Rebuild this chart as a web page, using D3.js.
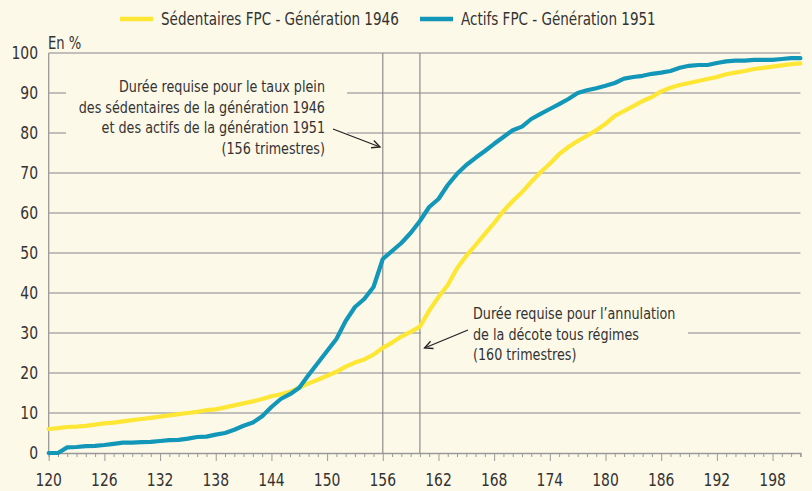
<!DOCTYPE html>
<html><head><meta charset="utf-8">
<script src="https://cdn.jsdelivr.net/npm/d3@7"></script>
<style>
html,body{margin:0;padding:0;background:#fdf9e9;}
svg{display:block;}
text{font-family:"Liberation Sans Narrow","DejaVu Sans Condensed","Roboto",sans-serif;font-stretch:condensed;fill:#333;}
</style></head>
<body>
<svg id="chart" width="812" height="491"></svg>
<script>
const quarters = d3.range(120, 202);
const sedentaires1946 = [6.0,6.2,6.5,6.6,6.8,7.1,7.4,7.6,7.9,8.2,8.5,8.8,9.1,9.4,9.7,10.0,10.3,10.7,10.9,11.4,11.9,12.4,12.9,13.5,14.2,14.7,15.3,16.3,17.4,18.3,19.3,20.3,21.6,22.6,23.4,24.6,26.3,27.6,29.1,30.3,31.6,35.6,39.0,42.0,46.2,49.3,52.0,54.8,57.5,60.5,63.0,65.2,67.8,70.2,72.3,74.7,76.5,78.0,79.3,80.7,82.3,84.3,85.5,86.7,88.0,89.0,90.4,91.3,92.0,92.5,93.0,93.5,94.0,94.7,95.1,95.5,96.0,96.3,96.6,96.9,97.2,97.4];
const actifs1951 = [0,0,1.4,1.5,1.7,1.8,2.0,2.3,2.6,2.6,2.7,2.8,3.0,3.2,3.3,3.6,4.0,4.1,4.6,5.0,5.8,6.8,7.6,9.2,11.5,13.5,14.7,16.3,19.5,22.5,25.5,28.5,33.0,36.5,38.5,41.5,48.5,50.5,52.5,55.0,58.0,61.5,63.5,67.0,69.8,72.0,73.8,75.5,77.3,79.0,80.7,81.6,83.5,84.8,86.0,87.2,88.5,90.0,90.7,91.2,91.8,92.5,93.6,94.0,94.3,94.8,95.1,95.5,96.3,96.8,97.0,97.0,97.5,97.9,98.1,98.1,98.3,98.3,98.3,98.5,98.7,98.7];
const xTicks = [120,126,132,138,144,150,156,162,168,174,180,186,192,198];
const yTicks = [0,10,20,30,40,50,60,70,80,90,100];
const seriesNames = ["Sédentaires FPC  - Génération 1946","Actifs FPC - Génération 1951"];
const seriesColors = ["#fde634","#1297b9"];
const refLines = [156,160];
const note1 = ["Durée requise pour le taux plein","des sédentaires de la génération 1946","et des actifs de la génération 1951","(156 trimestres)"];
const note2 = ["Durée requise pour l’annulation","de la décote tous régimes","(160 trimestres)"];

const svg = d3.select("#chart");
const bg = "#fdf9e9";
const SX = 0.86;
function addText(parent, px, py, str, size, anchor){
  return parent.append("text")
    .attr("transform",`translate(${px},${py}) scale(${SX},1)`)
    .attr("text-anchor",anchor||"start").attr("font-size",size).text(str);
}
svg.append("rect").attr("width",812).attr("height",491).attr("fill",bg);

const x = d3.scaleLinear().domain([120,201]).range([48.7,800.4]);
const y = d3.scaleLinear().domain([0,100]).range([453,53]);

// gridlines
svg.append("g").selectAll("line").data(yTicks.filter(d=>d>0)).join("line")
  .attr("x1",x(120)).attr("x2",x(201))
  .attr("y1",d=>y(d)).attr("y2",d=>y(d))
  .attr("stroke","#ababab").attr("stroke-width",1.3);

// masks behind annotations
svg.append("rect").attr("x",66).attr("y",68).attr("width",281).attr("height",90).attr("fill",bg);
svg.append("rect").attr("x",421).attr("y",300).attr("width",267).attr("height",64).attr("fill",bg);

// reference vertical lines
svg.append("g").selectAll("line").data(refLines).join("line")
  .attr("x1",d=>x(d)).attr("x2",d=>x(d)).attr("y1",y(100)).attr("y2",y(0))
  .attr("stroke","#8c8c8c").attr("stroke-width",1.2);

// x axis
const xAxis = d3.axisBottom(x).tickValues(d3.range(120,202)).tickSize(4).tickFormat("");
const gx = svg.append("g").attr("transform",`translate(0,${y(0)})`).call(xAxis);
gx.select(".domain").attr("stroke","#999").attr("stroke-width",1.3);
gx.selectAll(".tick line").attr("stroke","#999").attr("stroke-width",1)
  .attr("y2",d=> (d-120)%6===0 ? 8 : 4);
const gxl = svg.append("g");
xTicks.forEach(d=>addText(gxl, x(d), 486, d, 18, "middle"));

// y axis
svg.append("line").attr("x1",x(120)).attr("x2",x(120)).attr("y1",y(100)).attr("y2",y(0))
  .attr("stroke","#999").attr("stroke-width",1.3);
const gyl = svg.append("g");
yTicks.forEach(d=>addText(gyl, 38, y(d)+6, d, 18, "end"));
addText(svg, 48, 49, "En %", 17, "start");

// lines
const line = d3.line().x((d,i)=>x(quarters[i])).y(d=>y(d)).curve(d3.curveLinear);
[sedentaires1946, actifs1951].forEach((s,k)=>{
  svg.append("path").datum(s).attr("d",line).attr("fill","none")
    .attr("stroke",seriesColors[k]).attr("stroke-width",4.2)
    .attr("stroke-linejoin","round").attr("stroke-linecap","round");
});

// legend
const legendX = [120,420];
seriesNames.forEach((n,k)=>{
  svg.append("line").attr("x1",legendX[k]).attr("x2",legendX[k]+33)
    .attr("y1",19).attr("y2",19).attr("stroke",seriesColors[k]).attr("stroke-width",4.5);
  addText(svg, legendX[k]+41, 25, n, 17.5, "start");
});

// annotations
const g1 = svg.append("g");
note1.forEach((t,i)=>addText(g1, 325, 92+i*20.5, t, 16.5, "end"));
const g2 = svg.append("g");
note2.forEach((t,i)=>addText(g2, 473, 319+i*20.5, t, 16.5, "start"));

// arrows
function arrow(x1,y1,x2,y2){
  const g = svg.append("g").attr("stroke","#222").attr("stroke-width",1.3).attr("fill","none");
  g.append("line").attr("x1",x1).attr("y1",y1).attr("x2",x2).attr("y2",y2);
  const a = Math.atan2(y2-y1,x2-x1), L=9, w=0.45;
  g.append("path").attr("d",`M${x2-L*Math.cos(a-w)},${y2-L*Math.sin(a-w)} L${x2},${y2} L${x2-L*Math.cos(a+w)},${y2-L*Math.sin(a+w)}`);
}
arrow(333,129,x(155.7),147);
arrow(468,330,x(160.5),348);
</script>
</body></html>
